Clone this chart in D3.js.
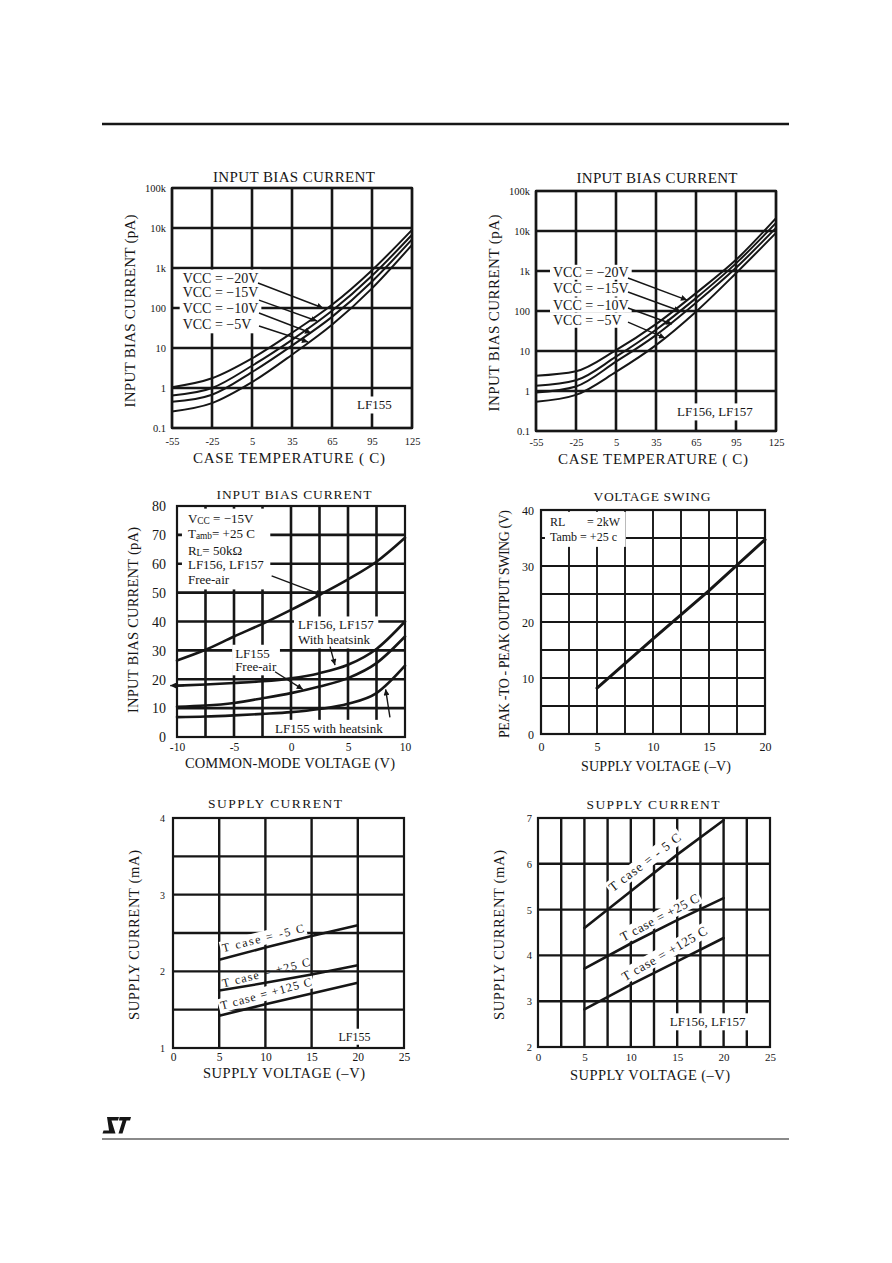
<!DOCTYPE html>
<html>
<head>
<meta charset="utf-8">
<script src="https://cdn.jsdelivr.net/npm/d3@7"></script>
<style>
  html, body { margin: 0; padding: 0; background: #fff; }
  svg { display: block; }
  text { font-family: "Liberation Serif", "Times New Roman", "DejaVu Serif", serif; }
</style>
</head>
<body>
<svg id="page" width="892" height="1263"></svg>
<script>
// ================= DATA =================
// Input bias current vs case temperature (log scale, pA)
const tempTicks = [-55, -25, 5, 35, 65, 95, 125];
const biasDecades = [0.1, 1, 10, 100, 1000, 10000, 100000];
const biasDecadeLabels = ["0.1", "1", "10", "100", "1k", "10k", "100k"];
const vccLabels = ["VCC = −20V", "VCC = −15V", "VCC = −10V", "VCC = −5V"];

// LF155
const lf155Vcc20 = [1.05, 1.75, 5.5, 24, 120, 880, 9000];
const lf155Vcc15 = [0.65, 1.0, 3.6, 16, 85, 640, 6800];
const lf155Vcc10 = [0.45, 0.68, 2.5, 11.5, 60, 460, 5200];
const lf155Vcc5  = [0.26, 0.42, 1.4, 6.8, 38, 310, 3800];
// LF156, LF157
const lf156Vcc20 = [2.4, 3.1, 10.5, 47, 280, 1900, 21000];
const lf156Vcc15 = [1.35, 1.85, 7.2, 34, 210, 1550, 16000];
const lf156Vcc10 = [0.92, 1.3, 5.4, 25, 160, 1200, 12000];
const lf156Vcc5  = [0.54, 0.8, 3.0, 14, 96, 880, 9000];

// Input bias current vs common-mode voltage (pA)
const cmVoltage = [-10, -7.5, -5, -2.5, 0, 2.5, 5, 7.5, 10];
const cmGrid = [-7.5, -5, -2.5, 0, 2.5, 5, 7.5];
const cmTicks = [-10, -5, 0, 5, 10];
const cmTickLabels = ["-10", "-5", "0", "5", "10"];
const cmBiasTicks = [0, 10, 20, 30, 40, 50, 60, 70, 80];
const cmBiasGrid = [10, 20, 30, 40, 50, 60, 70];
const lf156FreeAir  = [26.5, 30.2, 34.8, 39.2, 44, 49.2, 54.6, 60.7, 69];
const lf156Heatsink = [17.8, 18.2, 18.7, 19.3, 20.3, 22.1, 25, 30.5, 40];
const lf155FreeAir  = [10.5, 10.9, 11.8, 13.4, 15.2, 17.5, 20.4, 25.6, 34.8];
const lf155Heatsink = [6.9, 7.1, 7.5, 8.0, 8.6, 9.7, 11.5, 15.2, 24.7];

// Voltage swing
const swingSupply = [5, 10, 15, 20];
const swingValues = [8.2, 17, 25.6, 34.7];
const swingXTicks = [0, 5, 10, 15, 20];
const swingXGrid = [2.5, 5, 7.5, 10, 12.5, 15, 17.5];
const swingYTicks = [0, 10, 20, 30, 40];
const swingYGrid = [5, 10, 15, 20, 25, 30, 35];

// Supply current
const supplyPts = [5, 10, 15, 20];
const supplyTicks = [0, 5, 10, 15, 20, 25];
const lf155IccM55 = [2.15, 2.31, 2.46, 2.6];
const lf155Icc25  = [1.75, 1.85, 1.96, 2.08];
const lf155Icc125 = [1.42, 1.57, 1.71, 1.85];
const lf155IccTicks = [1, 2, 3, 4];
const lf155IccGrid = [1.5, 2, 2.5, 3, 3.5];
const lf156IccM55 = [4.6, 5.4, 6.2, 6.95];
const lf156Icc25  = [3.71, 4.26, 4.77, 5.25];
const lf156Icc125 = [2.82, 3.36, 3.87, 4.38];
const lf156IccTicks = [2, 3, 4, 5, 6, 7];
const lf156IccGrid = [3, 4, 5, 6];
const lf156SupplyGrid = [2.5, 5, 7.5, 10, 12.5, 15, 17.5, 20, 22.5];

// ================= DRAWING =================
const INK = "#161616";
const svg = d3.select("#page");

const defs = svg.append("defs");
defs.append("marker").attr("id", "ah").attr("viewBox", "0 0 10 10")
  .attr("refX", 10).attr("refY", 5).attr("markerWidth", 9).attr("markerHeight", 6)
  .attr("markerUnits", "userSpaceOnUse").attr("orient", "auto")
  .append("path").attr("d", "M0,0 L10,5 L0,10 Z").attr("fill", INK);

// page header / footer
svg.append("line").attr("x1", 102).attr("x2", 789).attr("y1", 124).attr("y2", 124)
  .attr("stroke", INK).attr("stroke-width", 2.4);
svg.append("line").attr("x1", 102).attr("x2", 789).attr("y1", 1139).attr("y2", 1139)
  .attr("stroke", INK).attr("stroke-width", 1.2);
svg.append("path").attr("fill", INK)
  .attr("d", "M107,1117 L119,1117 L118,1120.5 L111.5,1120.5 L115.5,1133.5 L102.5,1133.5 L103.5,1130.5 L109,1130.5 Z " +
             "M119.5,1117 L131,1117 L130,1120.5 L126.5,1120.5 L122.5,1133.5 L118.5,1133.5 L122.5,1120.5 L119,1120.5 Z");

function panel(c) {
  const g = svg.append("g");
  const x = d3.scaleLinear().domain(c.xDomain).range([c.left, c.right]);
  const y = (c.log ? d3.scaleLog() : d3.scaleLinear()).domain(c.yDomain).range([c.bottom, c.top]);
  const L = {};
  ["grid", "box", "frame", "marks", "ann", "axes"].forEach(k => L[k] = g.append("g"));
  L.grid.selectAll("line.v").data(c.xGrid).join("line").attr("class", "v")
    .attr("x1", d => x(d)).attr("x2", d => x(d)).attr("y1", c.top).attr("y2", c.bottom);
  L.grid.selectAll("line.h").data(c.yGrid).join("line").attr("class", "h")
    .attr("x1", c.left).attr("x2", c.right).attr("y1", d => y(d)).attr("y2", d => y(d));
  L.grid.selectAll("line").attr("stroke", INK).attr("stroke-width", c.gridW);
  L.frame.append("rect").attr("x", c.left).attr("y", c.top)
    .attr("width", c.right - c.left).attr("height", c.bottom - c.top)
    .attr("fill", "none").attr("stroke", INK).attr("stroke-width", c.frameW || 2.2);

  const ya = L.axes.append("g").attr("transform", `translate(${c.left},0)`)
    .call(d3.axisLeft(y).tickValues(c.yTicks).tickFormat((d, i) => c.yLabels[i]).tickSize(0).tickPadding(c.yPad));
  ya.select(".domain").remove();
  ya.selectAll("text").attr("font-size", c.yTickSize).attr("fill", INK).attr("dy", "0.34em");
  const xa = L.axes.append("g").attr("transform", `translate(0,${c.bottom})`)
    .call(d3.axisBottom(x).tickValues(c.xTicks).tickFormat((d, i) => c.xLabels[i]).tickSize(0));
  xa.select(".domain").remove();
  xa.selectAll("text").attr("font-size", c.xTickSize).attr("fill", INK)
    .attr("y", c.xTickY - c.bottom).attr("dy", "0.34em");

  const tt = (x0, y0, s, size, len, rot) => {
    const t = L.axes.append("text").attr("x", x0).attr("y", y0).attr("text-anchor", "middle")
      .attr("dominant-baseline", "central").attr("font-size", size).attr("fill", INK).text(s);
    if (len) t.attr("textLength", len).attr("lengthAdjust", "spacing");
    if (rot) t.attr("transform", `rotate(-90,${x0},${y0})`);
  };
  tt(c.titleX, c.titleY, c.title, c.titleSize, c.titleLen);
  tt(c.xTitleX, c.xTitleY, c.xTitle, c.xTitleSize, c.xTitleLen);
  tt(c.yTitleX, c.yTitleY, c.yTitle, c.yTitleSize, c.yTitleLen, true);
  return { g, x, y, L };
}

function series(xs, ys) { return xs.map((v, i) => [v, ys[i]]); }
function drawCurve(p, xs, ys, w, curve) {
  p.L.marks.append("path").datum(series(xs, ys))
    .attr("d", d3.line().x(d => p.x(d[0])).y(d => p.y(d[1])).curve(curve || d3.curveMonotoneX))
    .attr("fill", "none").attr("stroke", INK).attr("stroke-width", w)
    .attr("stroke-linejoin", "round").attr("stroke-linecap", "round");
}
function arrow(p, a, b, w) {
  p.L.ann.append("line").attr("x1", p.x(a[0])).attr("y1", p.y(a[1]))
    .attr("x2", p.x(b[0])).attr("y2", p.y(b[1]))
    .attr("stroke", INK).attr("stroke-width", w || 1.4).attr("marker-end", "url(#ah)");
}
function label(p, at, content, o = {}) {
  const x = p.x(at[0]), y = p.y(at[1]);
  const size = o.size || 13;
  const t = p.L.ann.append("text").attr("x", x).attr("y", y).attr("font-size", size)
    .attr("text-anchor", o.anchor || "start").attr("dominant-baseline", o.baseline || "central")
    .attr("fill", INK);
  if (Array.isArray(content)) {
    let shifted = false;
    content.forEach(([s, sub]) => {
      const ts = t.append("tspan").text(s);
      if (sub) { ts.attr("font-size", size * 0.72).attr("dy", 3); shifted = true; }
      else if (shifted) { ts.attr("dy", -3); shifted = false; }
    });
  } else t.text(content);
  if (o.len) t.attr("textLength", o.len).attr("lengthAdjust", "spacing");
  if (o.rotate) t.attr("transform", `rotate(${o.rotate},${x},${y})`);
  return t;
}
function whiteBox(p, nodes, padX, padY) {
  let x0 = Infinity, y0 = Infinity, x1 = -Infinity, y1 = -Infinity;
  nodes.forEach(n => {
    const b = n.node().getBBox();
    x0 = Math.min(x0, b.x); y0 = Math.min(y0, b.y);
    x1 = Math.max(x1, b.x + b.width); y1 = Math.max(y1, b.y + b.height);
  });
  const r = p.L.box.append("rect").attr("x", x0 - padX).attr("y", y0 - padY)
    .attr("width", x1 - x0 + 2 * padX).attr("height", y1 - y0 + 2 * padY).attr("fill", "#fff");
  const tr = nodes[0].attr("transform");
  if (tr) r.attr("transform", tr);
}

// ---------- Chart 1: LF155 input bias current ----------
const p1 = panel({
  left: 172, right: 412, top: 188, bottom: 428,
  xDomain: [-55, 125], yDomain: [0.1, 100000], log: true,
  xGrid: tempTicks, yGrid: biasDecades, gridW: 2.6,
  xTicks: tempTicks, xLabels: tempTicks.map(String), xTickY: 441, xTickSize: 10.5,
  yTicks: biasDecades, yLabels: biasDecadeLabels, yPad: 6, yTickSize: 10.5,
  title: "INPUT BIAS CURRENT", titleX: 294, titleY: 177, titleSize: 15, titleLen: 162,
  xTitle: "CASE TEMPERATURE ( C)", xTitleX: 289, xTitleY: 458, xTitleSize: 15, xTitleLen: 192,
  yTitle: "INPUT BIAS CURRENT (pA)", yTitleX: 130, yTitleY: 311, yTitleSize: 15, yTitleLen: 193
});
[lf155Vcc20, lf155Vcc15, lf155Vcc10, lf155Vcc5].forEach(v => drawCurve(p1, tempTicks, v, 2));
{
  const ys = [560, 240, 95, 38];
  const ts = vccLabels.map((s, i) => label(p1, [-47, ys[i]], s, { size: 14 }));
  whiteBox(p1, ts, 3, 1);
  arrow(p1, [9.5, 422], [58.25, 100]);
  arrow(p1, [10.25, 158], [53.75, 47.3]);
  arrow(p1, [10.25, 75], [49.25, 23.7]);
  arrow(p1, [10.25, 35.5], [47, 14.1]);
  const t = label(p1, [83.75, 0.376], "LF155", { size: 13 });
  whiteBox(p1, [t], 3, 1);
}

// ---------- Chart 2: LF156/157 input bias current ----------
const p2 = panel({
  left: 536, right: 776, top: 191, bottom: 431,
  xDomain: [-55, 125], yDomain: [0.1, 100000], log: true,
  xGrid: tempTicks, yGrid: biasDecades, gridW: 2.6,
  xTicks: tempTicks, xLabels: tempTicks.map(String), xTickY: 442, xTickSize: 10.5,
  yTicks: biasDecades, yLabels: biasDecadeLabels, yPad: 6, yTickSize: 10.5,
  title: "INPUT BIAS CURRENT", titleX: 657, titleY: 178, titleSize: 15, titleLen: 161,
  xTitle: "CASE TEMPERATURE ( C)", xTitleX: 653, xTitleY: 459, xTitleSize: 15, xTitleLen: 190,
  yTitle: "INPUT BIAS CURRENT (pA)", yTitleX: 494, yTitleY: 313, yTitleSize: 15, yTitleLen: 197
});
[lf156Vcc20, lf156Vcc15, lf156Vcc10, lf156Vcc5].forEach(v => drawCurve(p2, tempTicks, v, 2));
{
  const ys = [928, 355, 141, 58.6];
  vccLabels.forEach((s, i) => { const t = label(p2, [-42.25, ys[i]], s, { size: 14 }); whiteBox(p2, [t], 3, 0); });
  arrow(p2, [14, 668], [58.25, 188]);
  arrow(p2, [14, 298], [53, 100]);
  arrow(p2, [14, 119], [47, 47.3]);
  arrow(p2, [14, 53], [41.75, 21.1]);
  const t = label(p2, [50.75, 0.3], "LF156, LF157", { size: 13 });
  whiteBox(p2, [t], 3, 1);
}

// ---------- Chart 3: input bias current vs common-mode voltage ----------
const p3 = panel({
  left: 177, right: 405, top: 506, bottom: 737,
  xDomain: [-10, 10], yDomain: [0, 80],
  xGrid: cmGrid, yGrid: cmBiasGrid, gridW: 2.6,
  xTicks: cmTicks, xLabels: cmTickLabels, xTickY: 747, xTickSize: 11.5,
  yTicks: cmBiasTicks, yLabels: cmBiasTicks.map(String), yPad: 11, yTickSize: 14,
  title: "INPUT BIAS CURRENT", titleX: 294, titleY: 494, titleSize: 13.5, titleLen: 155,
  xTitle: "COMMON-MODE VOLTAGE (V)", xTitleX: 290, xTitleY: 763, xTitleSize: 14.5, xTitleLen: 210,
  yTitle: "INPUT BIAS CURRENT (pA)", yTitleX: 133, yTitleY: 620, yTitleSize: 14.5, yTitleLen: 186
});
[lf156FreeAir, lf156Heatsink, lf155FreeAir, lf155Heatsink].forEach(v => drawCurve(p3, cmVoltage, v, 2.6));
{
  const blk = [
    label(p3, [-9.04, 75.8], [["V"], ["CC", true], [" = −15V"]], { size: 13 }),
    label(p3, [-9.04, 70.65], [["T"], ["amb", true], ["= +25 C"]], { size: 13 }),
    label(p3, [-9.04, 64.8], [["R"], ["L", true], ["=  50kΩ"]], { size: 13 }),
    label(p3, [-9.04, 59.6], "LF156, LF157", { size: 13 }),
    label(p3, [-9.04, 54.4], "Free-air", { size: 13 })
  ];
  whiteBox(p3, blk, 6, 2);
  const b2 = [label(p3, [0.61, 38.8], "LF156, LF157", { size: 13 }), label(p3, [0.61, 33.6], "With heatsink", { size: 13 })];
  whiteBox(p3, b2, 4, 1);
  const b3 = [label(p3, [-4.9, 29], "LF155", { size: 13 }), label(p3, [-4.9, 24.3], "Free-air", { size: 13 })];
  whiteBox(p3, b3, 3, 1);
  const b4 = [label(p3, [-1.4, 3], "LF155 with heatsink", { size: 13 })];
  whiteBox(p3, b4, 3, 1);
  arrow(p3, [-1.7, 55.8], [2.7, 49.2]);
  arrow(p3, [3.42, 31.3], [3.86, 24.9]);
  arrow(p3, [-1.4, 22.6], [1.03, 16.5]);
  arrow(p3, [8.68, 6.8], [8.3, 16.5]);
  arrow(p3, [-9.4, 17.8], [-10.6, 17.8]);
}

// ---------- Chart 4: voltage swing ----------
const p4 = panel({
  left: 541, right: 765, top: 510, bottom: 734,
  xDomain: [0, 20], yDomain: [0, 40],
  xGrid: swingXGrid, yGrid: swingYGrid, gridW: 1.9,
  xTicks: swingXTicks, xLabels: swingXTicks.map(String), xTickY: 747, xTickSize: 12,
  yTicks: swingYTicks, yLabels: swingYTicks.map(String), yPad: 7, yTickSize: 12,
  title: "VOLTAGE SWING", titleX: 652, titleY: 496, titleSize: 13.5, titleLen: 117,
  xTitle: "SUPPLY VOLTAGE (–V)", xTitleX: 656, xTitleY: 766, xTitleSize: 14, xTitleLen: 150,
  yTitle: "PEAK -TO - PEAK OUTPUT SWING (V)", yTitleX: 504, yTitleY: 624, yTitleSize: 14, yTitleLen: 228
});
drawCurve(p4, swingSupply, swingValues, 3, d3.curveLinear);
{
  const blk = [
    label(p4, [0.8, 37.9], "RL", { size: 12 }),
    label(p4, [4.1, 37.9], "= 2kW", { size: 12 }),
    label(p4, [0.8, 35.2], "Tamb = +25 c", { size: 12 })
  ];
  whiteBox(p4, blk, 5, 3);
}

// ---------- Chart 5: supply current LF155 ----------
const p5 = panel({
  left: 173, right: 404, top: 818, bottom: 1048,
  xDomain: [0, 25], yDomain: [1, 4],
  xGrid: [5, 10, 15, 20], yGrid: lf155IccGrid, gridW: 2.4,
  xTicks: supplyTicks, xLabels: supplyTicks.map(String), xTickY: 1057, xTickSize: 11.5,
  yTicks: lf155IccTicks, yLabels: lf155IccTicks.map(String), yPad: 8, yTickSize: 10,
  title: "SUPPLY CURRENT", titleX: 275, titleY: 803, titleSize: 13.5, titleLen: 134,
  xTitle: "SUPPLY VOLTAGE (–V)", xTitleX: 284, xTitleY: 1073, xTitleSize: 14.5, xTitleLen: 162,
  yTitle: "SUPPLY CURRENT (mA)", yTitleX: 134, yTitleY: 935, yTitleSize: 14.5, yTitleLen: 170
});
[lf155IccM55, lf155Icc25, lf155Icc125].forEach(v => drawCurve(p5, supplyPts, v, 2.5, d3.curveLinear));
{
  const a = label(p5, [5.45, 2.25], "T case = -5 C", { size: 12, baseline: "alphabetic", rotate: -14, len: 84 });
  whiteBox(p5, [a], 2, 0);
  label(p5, [5.45, 1.79], "T case = +25 C", { size: 12, baseline: "alphabetic", rotate: -14, len: 90 });
  const c = label(p5, [5.27, 1.5], "T case = +125 C", { size: 12, baseline: "alphabetic", rotate: -15, len: 94 });
  whiteBox(p5, [c], 2, 0);
  const d = label(p5, [17.9, 1.147], "LF155", { size: 12 });
  whiteBox(p5, [d], 3, 1);
}

// ---------- Chart 6: supply current LF156/157 ----------
const p6 = panel({
  left: 538, right: 770, top: 818, bottom: 1047,
  xDomain: [0, 25], yDomain: [2, 7],
  xGrid: lf156SupplyGrid, yGrid: lf156IccGrid, gridW: 2.4,
  xTicks: supplyTicks, xLabels: supplyTicks.map(String), xTickY: 1057, xTickSize: 11,
  yTicks: lf156IccTicks, yLabels: lf156IccTicks.map(String), yPad: 6, yTickSize: 10.5,
  title: "SUPPLY CURRENT", titleX: 653, titleY: 804, titleSize: 13.5, titleLen: 133,
  xTitle: "SUPPLY VOLTAGE (–V)", xTitleX: 650, xTitleY: 1075, xTitleSize: 14.5, xTitleLen: 160,
  yTitle: "SUPPLY CURRENT (mA)", yTitleX: 499, yTitleY: 935, yTitleSize: 14.5, yTitleLen: 170
});
[lf156IccM55, lf156Icc25, lf156Icc125].forEach(v => drawCurve(p6, supplyPts, v, 2.6, d3.curveLinear));
{
  const a = label(p6, [8.08, 5.38], "T case = - 5 C", { size: 13, baseline: "alphabetic", rotate: -37.5, len: 87 });
  whiteBox(p6, [a], 2, 0);
  const b = label(p6, [9.2, 4.3], "T case = +25 C", { size: 13, baseline: "alphabetic", rotate: -28, len: 87 });
  whiteBox(p6, [b], 2, 0);
  const c = label(p6, [9.375, 3.43], "T case = +125 C", { size: 13, baseline: "alphabetic", rotate: -30, len: 96 });
  whiteBox(p6, [c], 2, 0);
  const d = label(p6, [14.2, 2.55], "LF156, LF157", { size: 13 });
  whiteBox(p6, [d], 3, 1);
}
</script>
</body>
</html>
